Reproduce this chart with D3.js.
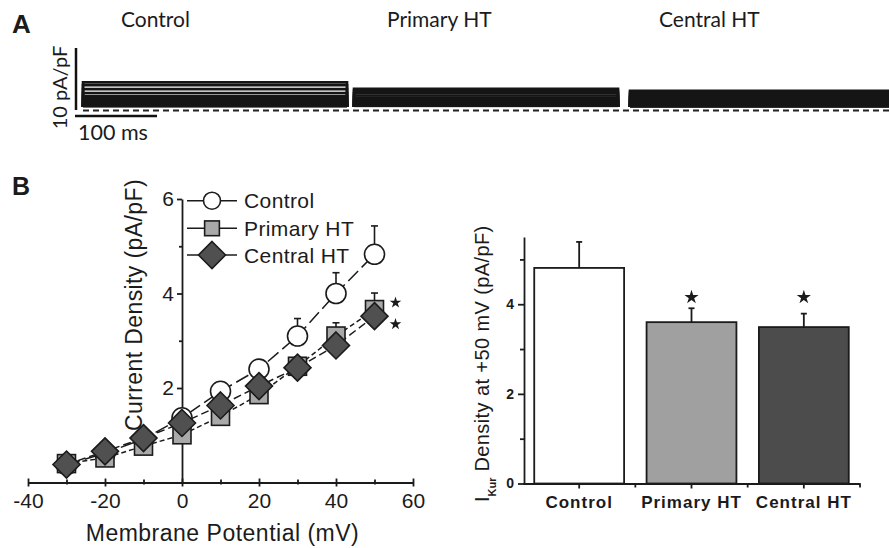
<!DOCTYPE html>
<html><head><meta charset="utf-8">
<script src="https://cdn.jsdelivr.net/npm/d3@7"></script>
<style>body{margin:0;background:#fff}svg{display:block}</style>
</head><body>
<svg id="c" width="889" height="548"></svg>
<script>
// ---------- DATA ----------
const voltages   = [-30,-20,-10,0,10,20,30,40,50];
const controlIV  = [0.38,0.62,0.92,1.37,1.93,2.40,3.10,4.00,4.83];
const controlErr = [0.08,0.10,0.12,0.15,0.15,0.18,0.37,0.44,0.60];
const primaryIV  = [0.40,0.52,0.77,1.01,1.40,1.86,2.46,3.10,3.66];
const primaryErr = [0.08,0.10,0.12,0.12,0.12,0.15,0.20,0.28,0.35];
const centralIV  = [0.38,0.66,0.94,1.26,1.63,2.04,2.43,2.90,3.52];
const centralErr = [0.08,0.10,0.12,0.12,0.12,0.15,0.18,0.25,0.30];
const groups     = ["Control","Primary HT","Central HT"];
const barValues  = [4.81,3.60,3.49];
const barErr     = [0.58,0.31,0.30];
const barSig     = [false,true,true];
const ivXTicks   = [-40,-20,0,20,40,60];
const ivXMinor   = [-30,-10,10,30,50];
const ivYTicks   = [2,4,6];
const ivYMinor   = [1,3,5];
const barYTicks  = [0,2,4];
const barYMinor  = [1,3,5];
// representative current traces (steady levels, pA/pF) for voltage steps
const traceControl = [4.45,3.98,3.36,2.74,2.26,1.77,1.29,0.97,0.65];
const tracePrimary = [3.40,3.10,2.70,2.35,2.00,1.65,1.30,1.00,0.70];
const traceCentral = [3.10,2.80,2.45,2.10,1.80,1.50,1.20,0.90,0.60];
const traceDurationMs = 322;
const scaleBarPA = 10, scaleBarMs = 100;

// ---------- SETUP ----------
const svg = d3.select("#c");
const ARIAL = "'Liberation Sans', Arial, sans-serif";
const CAL = "Lato, 'Open Sans', sans-serif";
const INK = "#1b1b1b";

// ---------- PANEL A ----------
svg.append("text").attr("x",12).attr("y",33).attr("font-family",ARIAL)
  .attr("font-weight","bold").attr("font-size",26).attr("fill",INK).text("A");

const tX = d3.scaleLinear([0,scaleBarMs],[0,82]);
const tY = d3.scaleLinear([0,scaleBarPA],[110,48]);
const traceSets = [
  {name:"Control", x0:83, label:121, levels:traceControl},
  {name:"Primary HT", x0:354, label:387, levels:tracePrimary},
  {name:"Central HT", x0:630, label:659, levels:traceCentral}
];
traceSets.forEach(s=>{
  svg.append("text").attr("x",s.label).attr("y",27).attr("font-family",CAL)
    .attr("font-size",21).attr("fill",INK).text(s.name);
  const x1 = s.x0 + tX(traceDurationMs);
  const g = svg.append("g");
  const lo = d3.min(s.levels), mid = d3.median(s.levels);
  g.append("rect").attr("x",s.x0).attr("width",x1-s.x0)
    .attr("y",tY(mid)).attr("height",tY(lo)-tY(mid)+1.5).attr("fill","#161616");
  g.selectAll("path").data(s.levels).join("path")
    .attr("d",v=>`M${s.x0},${tY(0)-3}V${tY(v)}H${x1}V${tY(0)-3}`)
    .attr("fill","none").attr("stroke","#151515").attr("stroke-width",2.6);
});
// zero-current dashed line
svg.append("line").attr("x1",83).attr("x2",889).attr("y1",tY(0)+0.5).attr("y2",tY(0)+0.5)
  .attr("stroke","#222").attr("stroke-width",2).attr("stroke-dasharray","6,4");
// scale bars
svg.append("line").attr("x1",76).attr("x2",76).attr("y1",tY(0)).attr("y2",tY(scaleBarPA))
  .attr("stroke","#111").attr("stroke-width",2.5);
svg.append("line").attr("x1",75).attr("x2",75+tX(scaleBarMs)).attr("y1",116).attr("y2",116)
  .attr("stroke","#111").attr("stroke-width",2.5);
svg.append("text").attr("transform","translate(67,87.5) rotate(-90)").attr("text-anchor","middle")
  .attr("font-family",CAL).attr("font-size",20).attr("fill",INK).text("10 pA/pF");
svg.append("text").attr("x",78).attr("y",140).attr("font-family",CAL)
  .attr("font-size",21.5).attr("fill",INK).text("100 ms");

// ---------- PANEL B (IV) ----------
svg.append("text").attr("x",12).attr("y",195).attr("font-family",ARIAL)
  .attr("font-weight","bold").attr("font-size",25).attr("fill",INK).text("B");

const xIV = d3.scaleLinear([-40,60],[28,413]);
const yIV = d3.scaleLinear([0,6],[482.5,199]);

// y title (drawn under data)
svg.append("text").attr("transform","translate(142,305) rotate(-90)").attr("text-anchor","middle")
  .attr("font-family",ARIAL).attr("font-size",23).attr("letter-spacing",0.4).attr("fill",INK)
  .text("Current Density (pA/pF)");

function styleAxis(g,fs,weight){
  g.attr("font-family",ARIAL).attr("font-size",fs).attr("font-weight",weight||"normal");
  g.selectAll("path,line").attr("stroke",INK).attr("stroke-width",1.8);
  g.selectAll("text").attr("fill",INK);
}
const fmt = d=>d<0?"-"+Math.abs(d):String(d);
const gx = svg.append("g").attr("transform",`translate(0,${yIV(0)})`)
  .call(d3.axisBottom(xIV).tickValues(ivXTicks).tickSize(4).tickSizeOuter(0).tickPadding(7).tickFormat(fmt));
styleAxis(gx,21); gx.selectAll(".tick line").attr("y1",-4);
const gxm = svg.append("g").attr("transform",`translate(0,${yIV(0)})`)
  .call(d3.axisBottom(xIV).tickValues(ivXMinor).tickSize(2).tickFormat(""));
styleAxis(gxm,10); gxm.select(".domain").remove(); gxm.selectAll(".tick line").attr("y1",-3);

const gy = svg.append("g").attr("transform",`translate(${xIV(0)},0)`)
  .call(d3.axisLeft(yIV).tickValues(ivYTicks).tickSize(5).tickSizeOuter(0).tickPadding(3).tickFormat(fmt));
styleAxis(gy,21);
const gym = svg.append("g").attr("transform",`translate(${xIV(0)},0)`)
  .call(d3.axisLeft(yIV).tickValues(ivYMinor).tickSize(3).tickFormat(""));
styleAxis(gym,10); gym.select(".domain").remove();

svg.append("text").attr("x",(xIV(-40)+xIV(60))/2+2).attr("y",541).attr("text-anchor","middle")
  .attr("font-family",ARIAL).attr("font-size",23).attr("letter-spacing",0.5).attr("fill",INK)
  .text("Membrane Potential (mV)");

const series = [
  {name:"Control", v:controlIV, e:controlErr, shape:"circle", fill:"#fff", dash:"14,5"},
  {name:"Primary HT", v:primaryIV, e:primaryErr, shape:"square", fill:"#a9a9a9", dash:"5,3"},
  {name:"Central HT", v:centralIV, e:centralErr, shape:"diamond", fill:"#505050", dash:"8,4"}
];
const line = d3.line().x(d=>xIV(d[0])).y(d=>yIV(d[1]));
series.forEach(s=>{
  svg.append("path").attr("d",line(voltages.map((x,i)=>[x,s.v[i]])))
    .attr("fill","none").attr("stroke",INK).attr("stroke-width",1.5).attr("stroke-dasharray",s.dash);
});
series.forEach(s=>{
  const g = svg.append("g").attr("stroke",INK).attr("stroke-width",1.6);
  voltages.forEach((x,i)=>{
    const cx = xIV(x), top = yIV(s.v[i]+s.e[i]);
    g.append("line").attr("x1",cx).attr("x2",cx).attr("y1",yIV(s.v[i])).attr("y2",top);
    g.append("line").attr("x1",cx-3.5).attr("x2",cx+3.5).attr("y1",top).attr("y2",top);
  });
});
function marker(g,shape,cx,cy,fill,scale){
  const k = scale||1;
  let el;
  if(shape==="circle") el = g.append("circle").attr("cx",cx).attr("cy",cy).attr("r",10*k);
  else if(shape==="square") el = g.append("rect").attr("x",cx-9*k).attr("y",cy-9*k).attr("width",18*k).attr("height",18*k);
  else { const h=13.5*k; el = g.append("path").attr("d",`M${cx},${cy-h}L${cx+h},${cy}L${cx},${cy+h}L${cx-h},${cy}Z`); }
  el.attr("fill",fill).attr("stroke",INK).attr("stroke-width",1.6);
}
series.forEach(s=>{
  const g = svg.append("g");
  voltages.forEach((x,i)=>marker(g,s.shape,xIV(x),yIV(s.v[i]),s.fill));
});
// significance stars at +50 mV
const star = d3.symbol().type(d3.symbolStar);
const last = voltages.length-1;
svg.append("path").attr("d",star.size(42)()).attr("fill",INK)
  .attr("transform",`translate(${xIV(50)+21},${yIV(primaryIV[last])-7})`);
svg.append("path").attr("d",star.size(42)()).attr("fill",INK)
  .attr("transform",`translate(${xIV(50)+21},${yIV(centralIV[last])+8})`);

// legend
const lg = svg.append("g");
series.forEach((s,i)=>{
  const y = [200.7,228.3,255][i];
  lg.append("line").attr("x1",187).attr("x2",237).attr("y1",y).attr("y2",y)
    .attr("stroke",INK).attr("stroke-width",1.6);
  marker(lg,s.shape,212,y,s.fill,i===0?0.85:(i===1?0.82:1));
  lg.append("text").attr("x",244).attr("y",y+7.5).attr("font-family",ARIAL).attr("font-size",21)
    .attr("letter-spacing",0.4).attr("fill",INK).text(s.name);
});

// ---------- PANEL B (bars) ----------
const xBar = d3.scaleBand(groups,[523,860]).paddingInner(0.2).paddingOuter(0.1);
const yBar = d3.scaleLinear([0,5.5],[483.5,237]);
const barFill = ["#ffffff","#a0a0a0","#4c4c4c"];

const bx = svg.append("g").attr("transform",`translate(0,${yBar(0)})`)
  .call(d3.axisBottom(xBar).tickSize(5).tickSizeOuter(0).tickPadding(7));
styleAxis(bx,17,"bold"); bx.selectAll(".tick text").attr("letter-spacing",1);
const centres = groups.map(g=>xBar(g)+xBar.bandwidth()/2);
const between = [ (centres[0]+centres[1])/2, (centres[1]+centres[2])/2, 860 ];
svg.append("g").selectAll("line").data(between).join("line")
  .attr("x1",d=>d).attr("x2",d=>d).attr("y1",yBar(0)).attr("y2",yBar(0)+4)
  .attr("stroke",INK).attr("stroke-width",1.8);

const by = svg.append("g").attr("transform",`translate(524,0)`)
  .call(d3.axisLeft(yBar).tickValues(barYTicks).tickSize(6).tickSizeOuter(0).tickPadding(4).tickFormat(fmt));
styleAxis(by,14,"bold");
const bym = svg.append("g").attr("transform",`translate(524,0)`)
  .call(d3.axisLeft(yBar).tickValues(barYMinor).tickSize(4).tickFormat(""));
styleAxis(bym,10); bym.select(".domain").remove();

svg.append("g").selectAll("rect").data(groups).join("rect")
  .attr("x",d=>xBar(d)).attr("width",xBar.bandwidth())
  .attr("y",(d,i)=>yBar(barValues[i])).attr("height",(d,i)=>yBar(0)-yBar(barValues[i]))
  .attr("fill",(d,i)=>barFill[i]).attr("stroke",INK).attr("stroke-width",1.8);
const eg = svg.append("g").attr("stroke",INK).attr("stroke-width",1.8);
groups.forEach((g,i)=>{
  const cx = centres[i], top = yBar(barValues[i]+barErr[i]);
  eg.append("line").attr("x1",cx).attr("x2",cx).attr("y1",yBar(barValues[i])).attr("y2",top);
  eg.append("line").attr("x1",cx-3).attr("x2",cx+3).attr("y1",top).attr("y2",top);
});
const sigTop = yBar(d3.max(barValues.map((v,i)=>barSig[i]?v+barErr[i]:0)));
groups.forEach((g,i)=>{
  if(!barSig[i]) return;
  svg.append("path").attr("d",star.size(62)()).attr("fill",INK)
    .attr("transform",`translate(${centres[i]},${sigTop-11})`);
});
// y title with subscript
const yt = svg.append("text").attr("transform","translate(489,502) rotate(-90)")
  .attr("font-family",ARIAL).attr("font-size",20).attr("fill",INK);
yt.append("tspan").text("I");
yt.append("tspan").attr("font-size",11).attr("font-weight","bold").attr("dy",7).text("Kur");
yt.append("tspan").attr("dy",-7).attr("letter-spacing",0.4).text(" Density at +50 mV (pA/pF)");
</script>
</body></html>
